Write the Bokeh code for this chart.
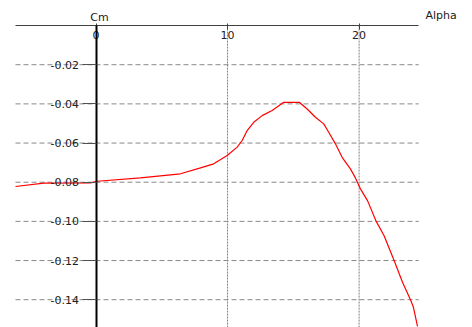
from bokeh.plotting import figure
from bokeh.models import FixedTicker, Range1d
from bokeh.core.properties import value
from bokeh.embed import file_html
from bokeh.resources import INLINE

# data
alpha = [-6.12, -3.97, -0.42, 0.09, 3.38, 6.42, 7.94, 8.95, 9.97, 10.73, 11.11, 11.49,
         11.99, 12.63, 13.39, 14.27, 15.45, 16.05, 16.68, 17.31, 17.69, 18.2, 18.71,
         19.34, 19.72, 20.1, 20.64, 21.27, 21.9, 22.66, 23.3, 23.93, 24.13, 24.44]
cm = [-0.0822, -0.0805, -0.0803, -0.0795, -0.0778, -0.0757, -0.0727, -0.0706, -0.0664,
      -0.0621, -0.0587, -0.0536, -0.0494, -0.0460, -0.0434, -0.0392, -0.0392, -0.0426,
      -0.0468, -0.0502, -0.0545, -0.0604, -0.0673, -0.0732, -0.0778, -0.0834, -0.0894,
      -0.0996, -0.1073, -0.1200, -0.1311, -0.1404, -0.1439, -0.1536]

x_ticks = [0, 10, 20]
x_tick_labels = ["0", "10", "20"]
x_grid = [10, 20]
y_ticks = [-0.14, -0.12, -0.10, -0.08, -0.06, -0.04, -0.02]
y_tick_labels = ["-0.14", "-0.12", "-0.10", "-0.08", "-0.06", "-0.04", "-0.02"]
x_title = "Alpha"
y_title = "Cm"

# layout (plot area extents in data units)
X_LO, X_HI = -7.26, 28.62      # whole canvas
Y_LO, Y_HI = -0.1542, 0.0128
AX_X0, AX_X1 = -6.12, 24.53    # drawn area
AX_Y1 = 0.0

FONT = "DejaVu Sans"
TXT = "#202020"

p = figure(width=472, height=327, output_backend="svg", toolbar_location=None,
           x_range=Range1d(X_LO, X_HI), y_range=Range1d(Y_LO, Y_HI),
           min_border_left=0, min_border_right=0, min_border_top=0, min_border_bottom=0)
p.outline_line_color = None
p.background_fill_color = "white"
p.border_fill_color = "white"
p.xgrid.visible = False
p.ygrid.visible = False

# grid lines restricted to the drawn area
ny = len(y_ticks)
p.segment(x0=[AX_X0] * ny, y0=y_ticks, x1=[AX_X1] * ny, y1=y_ticks,
          line_color="#888888", line_width=1, line_dash="5 3")
nx = len(x_grid)
p.segment(x0=x_grid, y0=[AX_Y1] * nx, x1=x_grid, y1=[Y_LO] * nx,
          line_color="#808080", line_width=1, line_dash="2 1")

# x axis along Cm = 0, labels below its line
xa = p.xaxis[0]
xa.fixed_location = AX_Y1
xa.bounds = (AX_X0, AX_X1)
xa.ticker = FixedTicker(ticks=x_ticks)
xa.major_label_overrides = {t: s for t, s in zip(x_ticks, x_tick_labels)}
xa.minor_tick_line_color = None
xa.major_tick_in = 2
xa.major_tick_out = 4
xa.major_label_standoff = 1
xa.axis_line_color = "#404040"
xa.major_tick_line_color = "#404040"
xa.major_label_text_font = FONT
xa.major_label_text_font_size = "11px"
xa.major_label_text_color = TXT

# y axis along Alpha = 0
ya = p.yaxis[0]
ya.fixed_location = 0
ya.bounds = (Y_LO, AX_Y1)
ya.ticker = FixedTicker(ticks=y_ticks)
ya.major_label_overrides = {t: s for t, s in zip(y_ticks, y_tick_labels)}
ya.minor_tick_line_color = None
ya.major_tick_in = 0
ya.major_tick_out = 14
ya.major_label_standoff = 3
ya.axis_line_color = "black"
ya.axis_line_width = 2
ya.major_tick_line_color = "#505050"
ya.major_label_text_font = FONT
ya.major_label_text_font_size = "11px"
ya.major_label_text_color = TXT

p.line(alpha, cm, line_color="#ff0000", line_width=1.2)

# axis titles
p.text(x=[0.27], y=[0.0042], text=[y_title], text_align="center", text_baseline="middle",
       text_font=value(FONT), text_font_size="11px", text_color=TXT)
p.text(x=[25.04], y=[0.0051], text=[x_title], text_align="left", text_baseline="middle",
       text_font=value(FONT), text_font_size="11px", text_color=TXT)

open("out.html", "w").write(file_html(p, INLINE))
